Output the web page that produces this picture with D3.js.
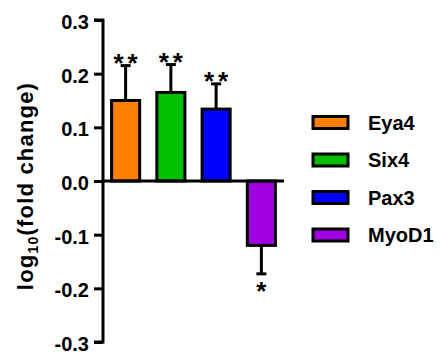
<!DOCTYPE html>
<html>
<head>
<meta charset="utf-8">
<script src="https://d3js.org/d3.v7.min.js"></script>
<style>
  body { margin: 0; background: #fff; }
  text { font-family: "Liberation Sans", Arial, sans-serif; font-weight: bold; fill: #000; }
</style>
</head>
<body>
<svg width="445" height="352"></svg>
<script>
// gene expression, log10 fold change
const genes = ['Eya4', 'Six4', 'Pax3', 'MyoD1'];
const means = [0.150, 0.165, 0.134, -0.120];
const errors = [0.065, 0.052, 0.047, 0.053];
const stars = ['**', '**', '**', '*'];
const colors = ['#FF8000', '#00C000', '#0000FF', '#A000E0'];
const yTicks = [0.3, 0.2, 0.1, 0.0, -0.1, -0.2, -0.3];

const svg = d3.select('svg');

const x = d3.scaleBand()
  .domain(genes)
  .range([103, 284])
  .paddingInner(0.38)
  .paddingOuter(0.19);

const y = d3.scaleLinear()
  .domain([-0.3, 0.3])
  .range([342, 20]);

// bars
svg.append('g')
  .selectAll('rect')
  .data(genes)
  .join('rect')
  .attr('x', d => x(d))
  .attr('width', x.bandwidth())
  .attr('y', (d, i) => Math.min(y(means[i]), y(0)))
  .attr('height', (d, i) => Math.abs(y(means[i]) - y(0)))
  .attr('fill', (d, i) => colors[i])
  .attr('stroke', '#000')
  .attr('stroke-width', 3);

// error bars (one-sided, away from zero)
const err = svg.append('g').attr('stroke', '#000').attr('stroke-width', 3);
genes.forEach((g, i) => {
  const cx = x(g) + x.bandwidth() / 2;
  const end = means[i] >= 0 ? means[i] + errors[i] : means[i] - errors[i];
  err.append('line')
    .attr('x1', cx).attr('x2', cx)
    .attr('y1', y(means[i])).attr('y2', y(end));
  err.append('line')
    .attr('x1', cx - 5).attr('x2', cx + 5)
    .attr('y1', y(end)).attr('y2', y(end));
  svg.append('text')
    .attr('x', cx + 2)
    .attr('y', means[i] >= 0 ? y(end) + 6.5 : y(end) + 26.5)
    .attr('text-anchor', 'middle')
    .attr('font-size', 26)
    .attr('letter-spacing', 4)
    .text(stars[i]);
});

// zero line
svg.append('line')
  .attr('x1', 103).attr('x2', 284)
  .attr('y1', y(0)).attr('y2', y(0))
  .attr('stroke', '#000').attr('stroke-width', 3);

// y axis
const yAxis = svg.append('g')
  .attr('transform', 'translate(103,0)')
  .call(d3.axisLeft(y).tickValues(yTicks).tickFormat(d3.format('.1f')).tickSize(9).tickPadding(5));
yAxis.select('.domain').attr('stroke-width', 3).attr('d', 'M-9,' + y(0.3) + 'H0V' + y(-0.3) + 'H-9');
yAxis.selectAll('.tick line').attr('stroke-width', 3);
yAxis.selectAll('.tick text')
  .attr('font-size', 20)
  .attr('font-family', '"Liberation Sans", Arial, sans-serif')
  .attr('font-weight', 'bold')
  .attr('dy', '0.42em')
  .text(d => d3.format('.1f')(d).replace('−', '-'));

// y axis title
const title = svg.append('text')
  .attr('transform', 'translate(33,186) rotate(-90)')
  .attr('text-anchor', 'middle')
  .attr('font-size', 22)
  .attr('letter-spacing', 1.2);
title.append('tspan').text('log');
title.append('tspan').attr('font-size', 14).attr('dy', 5).text('10');
title.append('tspan').attr('dy', -5).text('(fold change)');

// legend
const legend = svg.append('g')
  .selectAll('g')
  .data(genes)
  .join('g')
  .attr('transform', (d, i) => `translate(313,${122.5 + i * 37.5})`);
legend.append('rect')
  .attr('x', 0).attr('y', -6)
  .attr('width', 35).attr('height', 12)
  .attr('fill', (d, i) => colors[i])
  .attr('stroke', '#000')
  .attr('stroke-width', 3);
legend.append('text')
  .attr('x', 55)
  .attr('y', 7)
  .attr('font-size', 20)
  .text(d => d);
</script>
</body>
</html>
